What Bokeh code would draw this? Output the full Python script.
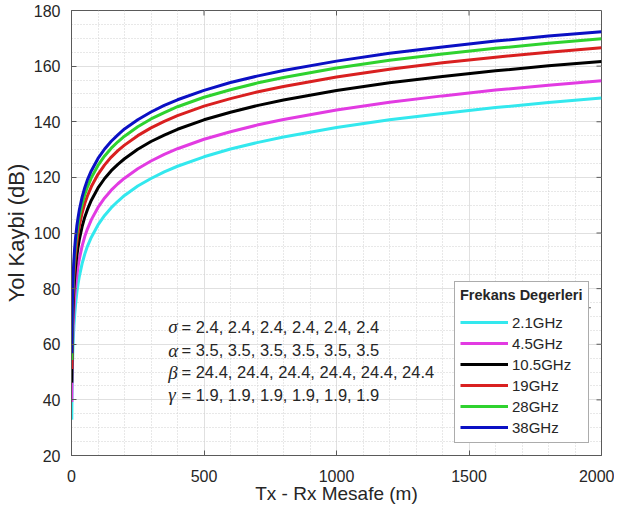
import math
from bokeh.plotting import figure
from bokeh.models import (Legend, LegendItem, SingleIntervalTicker,
                          BoxAnnotation, Range1d, ColumnDataSource)
from bokeh.core.properties import value
from bokeh.embed import file_html
from bokeh.resources import INLINE

# ---------------- data ----------------
distance_m = [1, 2, 3, 4, 5, 6, 8, 10, 12, 15, 20, 25, 30, 40, 50, 60, 75, 100,
              125, 150, 175, 200, 250, 300, 350, 400, 500, 600, 700, 800, 1000,
              1200, 1400, 1600, 1800, 2000]

pl_2_1GHz = [32.9, 43.5, 49.6, 54.0, 57.4, 60.2, 64.5, 67.9, 70.7, 74.1, 78.5,
             81.9, 84.6, 89.0, 92.4, 95.2, 98.5, 102.9, 106.3, 109.1, 111.4,
             113.5, 116.9, 119.6, 122.0, 124.0, 127.4, 130.2, 132.5, 134.5,
             137.9, 140.7, 143.0, 145.1, 146.9, 148.5]
pl_4_5GHz = [39.2, 49.7, 55.9, 60.3, 63.7, 66.4, 70.8, 74.2, 77.0, 80.4, 84.7,
             88.1, 90.9, 95.3, 98.7, 101.4, 104.8, 109.2, 112.6, 115.4, 117.7,
             119.7, 123.1, 125.9, 128.3, 130.3, 133.7, 136.4, 138.8, 140.8,
             144.2, 147.0, 149.3, 151.4, 153.1, 154.7]
pl_10_5GHz = [46.2, 56.7, 62.9, 67.3, 70.7, 73.4, 77.8, 81.2, 84.0, 87.4, 91.7,
              95.1, 97.9, 102.3, 105.7, 108.4, 111.8, 116.2, 119.6, 122.4, 124.7,
              126.7, 130.1, 132.9, 135.2, 137.3, 140.7, 143.4, 145.8, 147.8,
              151.2, 154.0, 156.3, 158.3, 160.1, 161.7]
pl_19GHz = [51.1, 61.6, 67.8, 72.2, 75.6, 78.3, 82.7, 86.1, 88.9, 92.3, 96.6,
            100.0, 102.8, 107.2, 110.6, 113.3, 116.7, 121.1, 124.5, 127.3, 129.6,
            131.6, 135.0, 137.8, 140.1, 142.2, 145.6, 148.3, 150.7, 152.7,
            156.1, 158.9, 161.2, 163.2, 165.0, 166.6]
pl_28GHz = [54.3, 64.8, 71.0, 75.4, 78.8, 81.5, 85.9, 89.3, 92.1, 95.5, 99.8,
            103.2, 106.0, 110.4, 113.8, 116.5, 119.9, 124.3, 127.7, 130.5, 132.8,
            134.8, 138.2, 141.0, 143.3, 145.4, 148.8, 151.5, 153.9, 155.9,
            159.3, 162.1, 164.4, 166.4, 168.2, 169.8]
pl_38GHz = [56.8, 67.4, 73.5, 77.9, 81.3, 84.1, 88.4, 91.8, 94.6, 98.0, 102.4,
            105.7, 108.5, 112.9, 116.3, 119.1, 122.4, 126.8, 130.2, 133.0, 135.3,
            137.4, 140.7, 143.5, 145.9, 147.9, 151.3, 154.1, 156.4, 158.4,
            161.8, 164.6, 166.9, 169.0, 170.8, 172.4]

series_labels = ["2.1GHz", "4.5GHz", "10.5GHz", "19GHz", "28GHz", "38GHz"]
series_values = [pl_2_1GHz, pl_4_5GHz, pl_10_5GHz, pl_19GHz, pl_28GHz, pl_38GHz]
series_colors = ["#33e8ee", "#e23be2", "#000000", "#d92020", "#2fd22f", "#0b10c4"]

x_tick_values = [0, 500, 1000, 1500, 2000]
y_tick_values = [20, 40, 60, 80, 100, 120, 140, 160, 180]

legend_title = "Frekans Degerleri"
x_title = "Tx - Rx Mesafe (m)"
y_title = "Yol Kaybi (dB)"

param_symbols = ["\u03c3", "\u03b1", "\u03b2", "\u03b3"]
param_texts = ["= 2.4, 2.4, 2.4, 2.4, 2.4, 2.4",
               "= 3.5, 3.5, 3.5, 3.5, 3.5, 3.5",
               "= 24.4, 24.4, 24.4, 24.4, 24.4, 24.4",
               "= 1.9, 1.9, 1.9, 1.9, 1.9, 1.9"]

# ---------------- figure ----------------
FONT = "Liberation Sans"
TXT = "#262626"
FRAME = "#5a5a5a"

p = figure(width=614, height=506, output_backend="svg", toolbar_location=None,
           x_range=Range1d(0, 2000), y_range=Range1d(20, 180),
           min_border_left=63, min_border_right=13, min_border_top=10,
           min_border_bottom=50, x_axis_label=x_title, y_axis_label=y_title)
p.background_fill_color = "white"
p.border_fill_color = "white"
p.outline_line_color = FRAME
p.outline_line_width = 1

p.xaxis.ticker = SingleIntervalTicker(interval=500, num_minor_ticks=5)
p.yaxis.ticker = SingleIntervalTicker(interval=20, num_minor_ticks=4)

for ax in (p.xaxis[0], p.yaxis[0]):
    ax.major_tick_in = 5
    ax.major_tick_out = 0
    ax.minor_tick_line_color = None
    ax.axis_line_color = FRAME
    ax.major_tick_line_color = FRAME
    ax.major_label_text_font = FONT
    ax.major_label_text_font_size = "16px"
    ax.major_label_text_color = TXT
    ax.axis_label_text_font = FONT
    ax.axis_label_text_font_style = "normal"
    ax.axis_label_text_color = TXT
p.xaxis.major_label_standoff = 10
p.yaxis.major_label_standoff = 7
p.xaxis.axis_label_text_font_size = "19px"
p.yaxis.axis_label_text_font_size = "22px"
p.xaxis.axis_label_standoff = -2
p.yaxis.axis_label_standoff = 2

# grids
for g in (p.xgrid[0], p.ygrid[0]):
    g.grid_line_color = "#e0e0e0"
    g.grid_line_width = 1
    g.minor_grid_line_color = "#d0d0d0"
    g.minor_grid_line_dash = "1 2"
    g.minor_grid_line_width = 1

# inward ticks on the top and right edges of the box
p.scatter(x=x_tick_values[1:-1], y=[180] * 3, marker="dash", size=10,
          angle=math.pi / 2, line_color=FRAME, line_width=1)
p.scatter(x=[2000] * 7, y=y_tick_values[1:-1], marker="dash", size=10,
          line_color=FRAME, line_width=1)

# curves
items = []
for lab, vals, col in zip(series_labels, series_values, series_colors):
    src = ColumnDataSource(dict(d=distance_m, pl=vals))
    r = p.line("d", "pl", source=src, line_color=col, line_width=3)
    items.append(LegendItem(label=lab, renderers=[r]))

# parameter annotation
ann = ColumnDataSource(dict(
    xs=[365] * 4, xt=[415] * 4,
    y=[66.3, 57.9, 50.0, 41.8],
    sym=param_symbols, txt=param_texts))
p.text("xs", "y", text="sym", source=ann, text_font=value("Liberation Serif"),
       text_font_style="italic", text_font_size="19px", text_color=TXT,
       text_baseline="middle", text_align="left")
p.text("xt", "y", text="txt", source=ann, text_font=value(FONT),
       text_font_size="16.5px", text_color=TXT,
       text_baseline="middle", text_align="left")

# legend
legend = Legend(items=items, location=(383, 12), title=legend_title,
                title_text_font=FONT, title_text_font_style="bold",
                title_text_font_size="14.5px", title_text_color=TXT,
                title_standoff=9,
                label_text_font=FONT, label_text_font_size="15px",
                label_text_color=TXT, label_standoff=4,
                glyph_width=48, glyph_height=20, label_height=20, spacing=1,
                padding=5, margin=0,
                border_line_color=FRAME, border_line_width=1,
                background_fill_color="white", background_fill_alpha=1.0)
p.add_layout(legend)

sep = BoxAnnotation(left=1447, right=1960, top=73.3, bottom=72.95,
                    fill_color=FRAME, fill_alpha=1.0, line_color=None)
p.add_layout(sep)

open("out.html", "w").write(file_html(p, INLINE))
